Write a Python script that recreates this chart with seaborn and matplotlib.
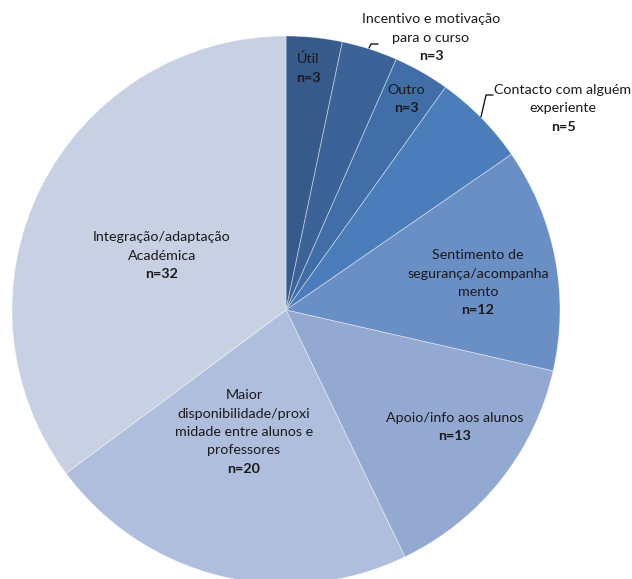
import matplotlib
matplotlib.use("Agg")
import matplotlib.pyplot as plt
import seaborn as sns

# Response categories (clockwise from 12 o'clock) and their counts
categories = [
    "Útil",
    "Incentivo e motivação\npara o curso",
    "Outro",
    "Contacto com alguém\nexperiente",
    "Sentimento de\nsegurança/acompanha\nmento",
    "Apoio/info aos alunos",
    "Maior\ndisponibilidade/proxi\nmidade entre alunos e\nprofessores",
    "Integração/adaptação\nAcadémica",
]
counts = [3, 3, 3, 5, 12, 13, 20, 32]
colors = ["#365A8A", "#3B6398", "#416EA7", "#4A7DBA",
          "#6A8FC5", "#94A9D2", "#AFBEDC", "#C8D0E4"]

sns.set_theme(style="white")
plt.rcParams["font.family"] = ["Lato", "DejaVu Sans"]

W, H = 632, 579
fig = plt.figure(figsize=(W / 100, H / 100), dpi=100)
ax = fig.add_axes([0, 0, 1, 1])

# pie geometry in pixels
CX, CY, R = 286, 310, 274


def px(x, y):
    """pixel position (from top-left) -> data coordinates"""
    return (x - CX) / R, (CY - y) / R


wedges, _ = ax.pie(
    counts,
    colors=sns.color_palette(colors),
    startangle=90,
    counterclock=False,
    radius=1.0,
    wedgeprops=dict(edgecolor=(1, 1, 1, 0.45), linewidth=0.6),
)
ax.set_aspect("auto")
ax.set_xlim(-CX / R, (W - CX) / R)
ax.set_ylim(-(H - CY) / R, CY / R)
ax.axis("off")

# label anchors: (center x, first line y) in pixels
label_pos = [
    (308, 59),
    (431, 19),
    (406, 90),
    (563, 90),
    (478, 255),
    (455, 418),
    (244, 395),
    (162, 237),
]
LINE = 18.5
FS = 10.3
for name, n, (lx, ly) in zip(categories, counts, label_pos):
    lines = name.split("\n")
    for i, t in enumerate(lines):
        x, y = px(lx, ly + i * LINE)
        ax.text(x, y, t, ha="center", va="center", fontsize=FS, color="#1a1a1a")
    x, y = px(lx, ly + len(lines) * LINE)
    ax.text(x, y, f"n={n}", ha="center", va="center", fontsize=FS,
            fontweight="bold", color="#1a1a1a")

# leader lines for the labels placed outside the pie
leaders = [
    [(369, 48), (371, 44), (378, 44)],
    [(481, 117), (486, 95), (493, 95)],
]
for pts in leaders:
    xs, ys = zip(*[px(a, b) for a, b in pts])
    ax.plot(xs, ys, color="black", linewidth=0.9, solid_joinstyle="miter")

fig.savefig("out.png", dpi=100)
